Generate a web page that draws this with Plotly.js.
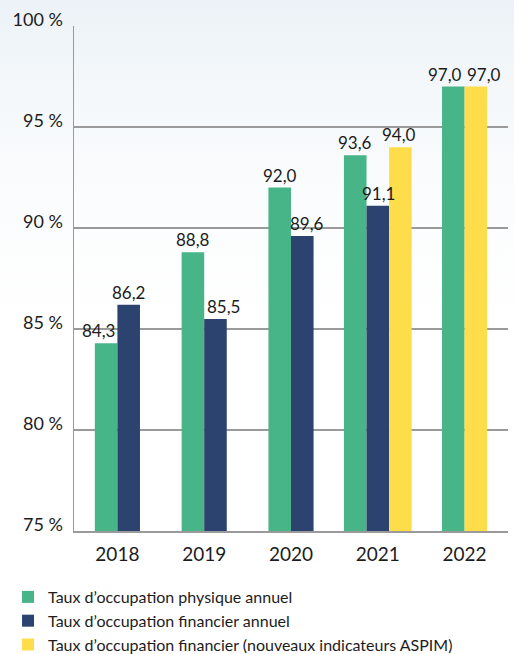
<!DOCTYPE html>
<html>
<head>
<meta charset="utf-8">
<script src="https://cdn.plot.ly/plotly-3.0.1.min.js"></script>
<style>
html,body{margin:0;padding:0;width:514px;height:654px;overflow:hidden;
background:linear-gradient(to bottom,#ecf2f7 0px,#f4f8fb 90px,#fbfcfd 200px,#ffffff 320px);}
#chart{width:514px;height:654px;}
</style>
</head>
<body>
<div id="chart"></div>
<script>
const years = ['2018', '2019', '2020', '2021', '2022'];
const seriesNames = [
  'Taux d\u2019occupation physique annuel',
  'Taux d\u2019occupation financier annuel',
  'Taux d\u2019occupation financier (nouveaux indicateurs ASPIM)'
];
const physique = [84.3, 88.8, 92.0, 93.6, 97.0];
const financier = [86.2, 85.5, 89.6, 91.1, null];
const aspim = [null, null, null, 94.0, 97.0];
const colors = ['#47b587', '#2c4370', '#fedd4a'];
const yTicks = [75, 80, 85, 90, 95, 100];
const yTickText = yTicks.map(v => v + ' %');

const allSeries = [physique, financier, aspim];
const barW = 0.26;
// small horizontal nudges (px) of value labels, as in the original layout
const labelNudge = [
  [-8, 0, 0, 0, -8],
  [0, 8, 5, 1, 0],
  [0, 0, 0, -1, 8]
];

// compute centered offsets per category from the series present
const offsets = allSeries.map(() => []);
years.forEach((_, i) => {
  const present = allSeries.map((s, k) => s[i] != null ? k : -1).filter(k => k >= 0);
  const start = -present.length * barW / 2;
  allSeries.forEach((s, k) => {
    const idx = present.indexOf(k);
    offsets[k].push(idx >= 0 ? start + idx * barW : 0);
  });
});

const font = 'Lato, "Open Sans", sans-serif';
const traces = allSeries.map((s, k) => ({
  type: 'bar',
  name: seriesNames[k],
  x: years,
  y: s,
  width: barW,
  offset: offsets[k],
  marker: {color: colors[k]},
  hoverinfo: 'skip'
}));

const annotations = [];
allSeries.forEach((s, k) => {
  s.forEach((v, i) => {
    if (v == null) return;
    annotations.push({
      x: i + offsets[k][i] + barW / 2,
      y: v,
      xref: 'x', yref: 'y',
      text: v.toFixed(1).replace('.', ','),
      showarrow: false,
      xanchor: 'center', yanchor: 'bottom',
      xshift: labelNudge[k][i],
      yshift: 0,
      font: {family: font, size: 17, color: '#1c1c1c'}
    });
  });
});

const layout = {
  width: 514, height: 654,
  margin: {l: 74, r: 6, t: 26, b: 123, autoexpand: false},
  paper_bgcolor: 'rgba(0,0,0,0)',
  plot_bgcolor: 'rgba(0,0,0,0)',
  barmode: 'overlay',
  showlegend: true,
  font: {family: font, color: '#1c1c1c'},
  annotations: annotations,
  xaxis: {
    type: 'category',
    range: [-0.5, 4.5],
    showgrid: false,
    showline: true, linecolor: '#9a9a9a', linewidth: 1.5,
    ticks: '',
    ticklabelstandoff: 6,
    tickfont: {family: font, size: 19, color: '#1c1c1c'},
    fixedrange: true
  },
  yaxis: {
    range: [75, 100],
    tickvals: yTicks,
    ticktext: yTickText,
    showgrid: true, gridcolor: '#9a9a9a', gridwidth: 1.5,
    showline: true, linecolor: '#9a9a9a', linewidth: 1.5,
    zeroline: false,
    ticks: '',
    ticklabelstandoff: 6,
    ticklabelshift: -6,
    tickfont: {family: font, size: 18, color: '#1c1c1c'},
    fixedrange: true
  },
  legend: {
    x: -0.152, xanchor: 'left',
    y: -0.097, yanchor: 'top',
    orientation: 'v',
    bgcolor: 'rgba(0,0,0,0)',
    font: {family: font, size: 16, color: '#1c1c1c'},
    tracegroupgap: 0
  }
};

Plotly.newPlot('chart', traces, layout, {displayModeBar: false, staticPlot: true});
</script>
</body>
</html>
